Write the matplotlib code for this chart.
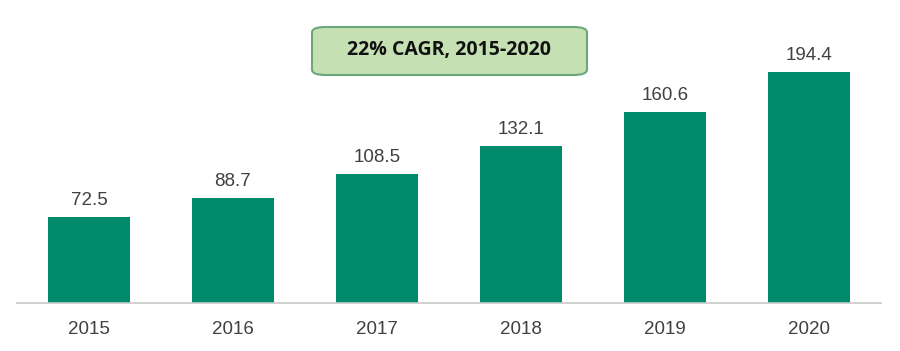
import matplotlib.pyplot as plt
from matplotlib.patches import FancyBboxPatch

years = ['2015', '2016', '2017', '2018', '2019', '2020']
values = [72.5, 88.7, 108.5, 132.1, 160.6, 194.4]
value_labels = ['72.5', '88.7', '108.5', '132.1', '160.6', '194.4']

bar_color = '#008a6c'
text_color = '#404040'

fig = plt.figure(figsize=(9, 3.51), dpi=100)
ax = fig.add_axes([17/900, 48/351, 864/900, 293/351])

x = range(len(years))
bars = ax.bar(x, values, width=0.57, color=bar_color)
for xi, v, lab in zip(x, values, value_labels):
    ax.text(xi, v + 6.5, lab, ha='center', va='bottom', fontsize=13.5,
            color=text_color, family='Liberation Sans')

ax.set_xlim(-0.5, 5.5)
ax.set_ylim(0, 246.6)
ax.set_xticks(list(x))
ax.set_xticklabels(years, fontsize=13.5, color=text_color, family='Liberation Sans')
ax.tick_params(axis='x', length=0, pad=13)
ax.set_yticks([])
for s in ['top', 'left', 'right']:
    ax.spines[s].set_visible(False)
ax.spines['bottom'].set_color('#c8c8c8')
ax.spines['bottom'].set_linewidth(1.2)

# CAGR callout box
box = FancyBboxPatch((312/900, 1 - 75/351), 275/900, 48/351,
                     boxstyle='round,pad=0,rounding_size=0.015',
                     transform=fig.transFigure, facecolor='#c5e1b3',
                     edgecolor='#6aa87a', linewidth=1.5)
fig.patches.append(box)
fig.text(449/900, 1 - 50/351, '22% CAGR, 2015-2020', ha='center', va='center',
         fontsize=14, fontweight='bold', color='#111111', family='Open Sans')

fig.savefig('out.png', dpi=100)
